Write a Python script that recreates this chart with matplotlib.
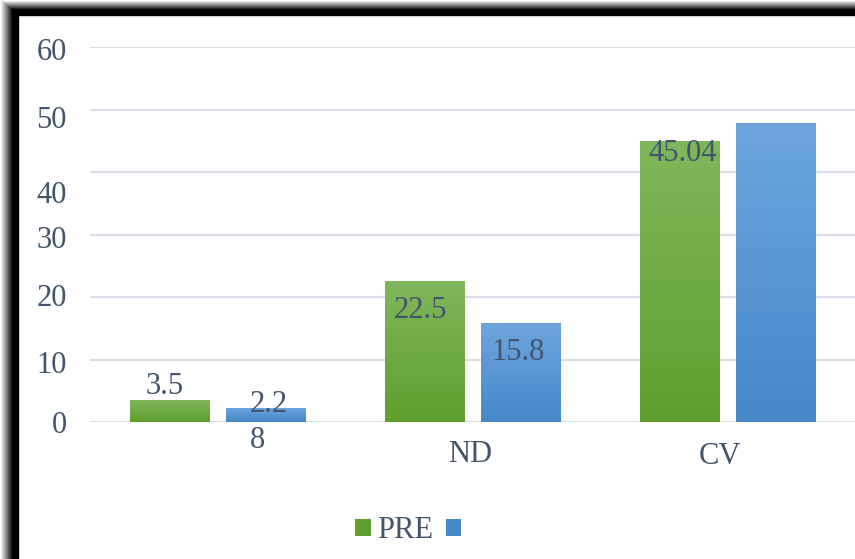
import matplotlib
matplotlib.use('Agg')
import matplotlib.pyplot as plt
import numpy as np
from matplotlib.colors import to_rgb
from matplotlib.lines import Line2D
from matplotlib.transforms import IdentityTransform, blended_transform_factory

# Данные
categories = ['8', 'ND', 'CV']
pre = [3.5, 22.5, 45.04]
post = [2.2, 15.8, 47.8]
pre_labels = ['3.5', '22.5', '45.04']
post_labels = ['2.2', '15.8', '']
legend_labels = ['PRE', '']
yticks = [0, 10, 20, 30, 40, 50, 60]

TEXT = '#44546A'
GREEN = ('#80B75C', '#5F9E2E')
BLUE = ('#6DA6DD', '#4587C8')

plt.rcParams['font.family'] = ['Liberation Serif', 'DejaVu Serif']
FS = 22

W, H = 855, 559
fig = plt.figure(figsize=(W / 100, H / 100), dpi=100, facecolor='white')
ax = fig.add_axes([90 / W, (H - 422) / H, 765 / W, 375 / H])

x = np.arange(len(categories))
b1 = ax.bar(x - 0.19, pre, 0.31, color=GREEN[1], zorder=2)
b2 = ax.bar(x + 0.19, post, 0.31, color=BLUE[1], zorder=2)


def gradient(bars, colors):
    top, bot = np.array(to_rgb(colors[0])), np.array(to_rgb(colors[1]))
    t = np.linspace(0, 1, 100).reshape(-1, 1, 1)
    img = bot + (top - bot) * t
    for bar in bars:
        x0, y0 = bar.get_x(), bar.get_y()
        im = ax.imshow(img, extent=[x0, x0 + bar.get_width(), y0, y0 + bar.get_height()],
                       origin='lower', aspect='auto', zorder=2.5)
        im.set_clip_path(bar)


gradient(b1, GREEN)
gradient(b2, BLUE)

ax.set_xlim(-0.5, 2.5)
ax.set_ylim(0, 60)
ax.set_yticks(yticks)
ax.set_yticklabels([])
ax.set_xticks([])
ax.tick_params(length=0)
ax.yaxis.grid(True, color='#D9DEE6', lw=1.6)
ax.set_axisbelow(True)
for s in ax.spines.values():
    s.set_visible(False)

# подписи оси y (сдвинуты как в оригинале)
ylab_pos = [-0.5, 9.1, 19.7, 29.1, 36.3, 48.3, 59.2]
tr_y = blended_transform_factory(IdentityTransform(), ax.transData)
for v, p in zip(yticks, ylab_pos):
    fig.text(67, p, str(v), transform=tr_y, ha='right', va='center', fontsize=FS, color=TEXT)

# подписи категорий
cat_x = [0.155, 0.99, 1.97]
cat_y = [440, 455, 457]
tr_x = blended_transform_factory(ax.transData, IdentityTransform())
for c, cx, cy in zip(categories, cat_x, cat_y):
    fig.text(cx, H - cy, c, transform=tr_x, ha='center', va='center', fontsize=FS, color=TEXT)

# значения на столбцах
pre_off = [(-4, 14), (-4, -29), (4, -13)]
post_off = [(3, 4), (-3, -29), (0, -40)]
for bars, labs, offs in [(b1, pre_labels, pre_off), (b2, post_labels, post_off)]:
    for bar, lab, (dx, dy) in zip(bars, labs, offs):
        ax.annotate(lab, (bar.get_x() + bar.get_width() / 2, bar.get_height()),
                    xytext=(dx * 0.72, dy * 0.72), textcoords='offset points',
                    ha='center', va='center', fontsize=FS, color=TEXT, zorder=3)

leg = fig.legend([b1, b2], legend_labels, loc='center left',
                 bbox_to_anchor=(340 / W, (H - 531) / H), ncol=2, frameon=False,
                 borderpad=0, handlelength=0.5, handleheight=0.5,
                 handletextpad=0.2, columnspacing=0.43, fontsize=FS)
for t in leg.get_texts():
    t.set_color(TEXT)

# рамка с тенью
for k in range(19):
    c = 0.0 if k < 7 else min(1.0, (k - 6) / 12)
    xp = 18 - k - 0.5
    fig.add_artist(Line2D([xp, xp], [0, H - (15 - min(k, 15))], color=(c, c, c),
                          lw=1.0, transform=IdentityTransform()))
for k in range(16):
    c = 0.0 if k < 7 else min(1.0, (k - 6) / 9)
    yp = H - (15 - k - 0.5)
    fig.add_artist(Line2D([18 - min(k, 18), W], [yp, yp], color=(c, c, c),
                          lw=1.0, transform=IdentityTransform()))

fig.savefig('out.png', dpi=100, facecolor='white')
